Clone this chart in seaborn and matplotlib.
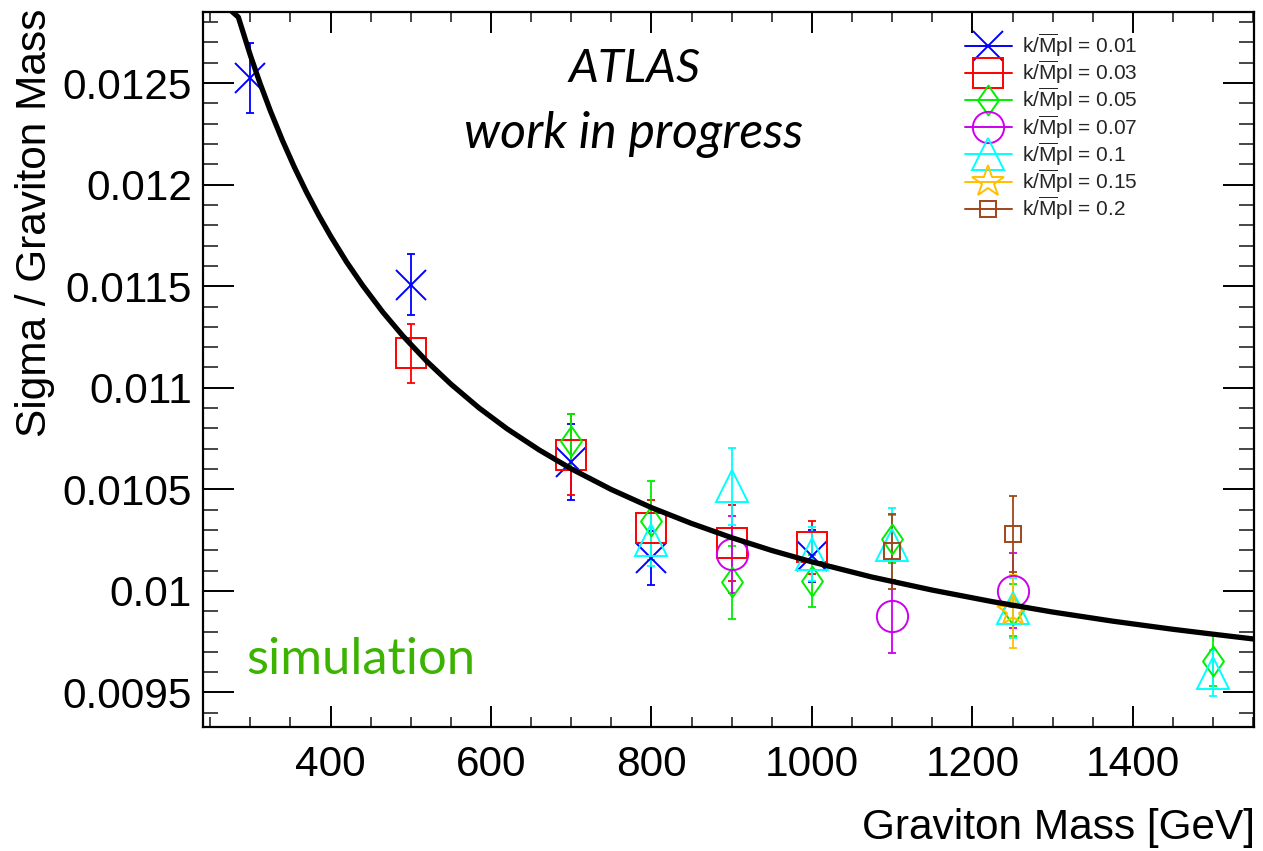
import numpy as np
import pandas as pd
import matplotlib
matplotlib.use("Agg")
import matplotlib.pyplot as plt
from matplotlib.lines import Line2D
from matplotlib.path import Path
from matplotlib.ticker import FixedLocator, MultipleLocator
import seaborn as sns

# ---------------- data ----------------
k_labels = ["0.01", "0.03", "0.05", "0.07", "0.1", "0.15", "0.2"]

m_k001 = [300, 500, 700, 800, 1000]
v_k001 = [0.012525, 0.011508, 0.010636, 0.010160, 0.010170]
e_k001 = [0.000173, 0.000152, 0.000188, 0.000133, 0.000128]

m_k003 = [500, 700, 800, 900, 1000]
v_k003 = [0.011169, 0.010671, 0.010308, 0.010236, 0.010215]
e_k003 = [0.000147, 0.000200, 0.000138, 0.000187, 0.000131]

m_k005 = [700, 800, 900, 1000, 1100, 1250, 1500]
v_k005 = [0.010738, 0.010345, 0.010042, 0.010050, 0.010255, 0.009906, 0.009657]
e_k005 = [0.000135, 0.000195, 0.000180, 0.000128, 0.000120, 0.000128, 0.000125]

m_k007 = [900, 1100, 1250]
v_k007 = [0.010181, 0.009876, 0.010000]
e_k007 = [0.000190, 0.000180, 0.000185]

m_k010 = [800, 900, 1000, 1100, 1250, 1500]
v_k010 = [0.010252, 0.010515, 0.010181, 0.010227, 0.009916, 0.009595]
e_k010 = [0.000130, 0.000190, 0.000133, 0.000180, 0.000150, 0.000113]

m_k015 = [1250]
v_k015 = [0.009900]
e_k015 = [0.000180]

m_k020 = [1100, 1250]
v_k020 = [0.010195, 0.010278]
e_k020 = [0.000185, 0.000187]

# fitted curve
curve_m = [272, 285, 300, 312, 325, 340, 355, 370, 385, 400, 420, 440, 465, 490,
           520, 550, 585, 620, 660, 700, 750, 800, 850, 900, 950, 1000, 1075,
           1150, 1225, 1300, 1375, 1450, 1500, 1551]
curve_v = [0.01287, 0.012825, 0.012637, 0.012500, 0.012363, 0.012218, 0.012085,
           0.011963, 0.011851, 0.011747, 0.011619, 0.011504, 0.011373, 0.011256,
           0.011130, 0.011018, 0.010901, 0.010798, 0.010694, 0.010601, 0.010499,
           0.010410, 0.010332, 0.010262, 0.010199, 0.010143, 0.010068, 0.010004,
           0.009947, 0.009896, 0.009851, 0.009811, 0.009787, 0.009763]

x_ticks = [400, 600, 800, 1000, 1200, 1400]
y_ticks = [0.0095, 0.0100, 0.0105, 0.0110, 0.0115, 0.0120, 0.0125]
y_tick_labels = ["0.0095", "0.01", "0.0105", "0.011", "0.0115", "0.012", "0.0125"]

# ---------------- style ----------------
sns.set_theme(style="white")
plt.rcParams["font.family"] = ["Liberation Sans", "DejaVu Sans"]
plt.rcParams["mathtext.fontset"] = "custom"
plt.rcParams["mathtext.rm"] = "Liberation Sans"
plt.rcParams["mathtext.it"] = "Liberation Sans:italic"

diamond = Path([(0, 1), (0.7, 0), (0, -1), (-0.7, 0), (0, 1)],
               [Path.MOVETO, Path.LINETO, Path.LINETO, Path.LINETO, Path.CLOSEPOLY])

series = [
    (m_k001, v_k001, e_k001, "#0000ff", "x", 21.5),
    (m_k003, v_k003, e_k003, "#ff0000", "s", 22.0),
    (m_k005, v_k005, e_k005, "#00ee00", diamond, 21.5),
    (m_k007, v_k007, e_k007, "#cc00ee", "o", 22.5),
    (m_k010, v_k010, e_k010, "#00ffff", "^", 22.5),
    (m_k015, v_k015, e_k015, "#ffc000", "*", 24.0),
    (m_k020, v_k020, e_k020, "#a0461a", "s", 11.0),
]

fig = plt.figure(figsize=(12.63, 8.51), dpi=100)
ax = fig.add_axes([203 / 1263, 1 - 727 / 851, (1254 - 203) / 1263, (727 - 12) / 851])
ax.set_facecolor("white")

handles = []
for (m, v, e, c, mk, ms), lab in zip(series, k_labels):
    ax.errorbar(m, v, yerr=e, fmt="none", ecolor=c, elinewidth=1.3,
                capsize=2.6, capthick=1.3, zorder=3)
    ax.plot(m, v, linestyle="none", marker=mk, ms=ms, mfc="none", mec=c,
            mew=1.4, zorder=4)
    handles.append(Line2D([0], [0], color=c, lw=1.4, marker=mk, ms=ms,
                          mfc="none", mec=c, mew=1.4,
                          label=r"k/$\overline{\mathrm{M}}$pl = " + lab))

curve_df = pd.DataFrame({"m": curve_m, "v": curve_v})
sns.lineplot(data=curve_df, x="m", y="v", color="black", lw=3.8,
             estimator=None, sort=False, ax=ax, zorder=10)

ax.set_xlim(241, 1551)
ax.set_ylim(0.00933, 0.01285)
ax.set_xlabel("")
ax.set_ylabel("")

ax.xaxis.set_major_locator(FixedLocator(x_ticks))
ax.xaxis.set_minor_locator(MultipleLocator(50))
ax.yaxis.set_major_locator(FixedLocator(y_ticks))
ax.yaxis.set_minor_locator(MultipleLocator(0.0001))
ax.set_yticklabels(y_tick_labels)

ax.tick_params(axis="x", which="major", direction="in", length=15, width=1.4,
               top=True, bottom=True, labelsize=30.5, pad=13, colors="black")
ax.tick_params(axis="x", which="minor", direction="in", length=7.5, width=1.2,
               top=True, bottom=True)
ax.tick_params(axis="y", which="major", direction="in", length=22, width=1.4,
               left=True, right=True, labelsize=30.5, pad=8, colors="black")
ax.tick_params(axis="y", which="minor", direction="in", length=11, width=1.2,
               left=True, right=True)
for sp in ax.spines.values():
    sp.set_visible(True)
    sp.set_color("black")
    sp.set_linewidth(1.6)

# axis titles (ROOT style: aligned to the far ends)
fig.text(1255 / 1263, 1 - 828 / 851, "Graviton Mass [GeV]", ha="right",
         va="center", fontsize=30.5, color="black")
fig.text(35 / 1263, 1 - 9 / 851, "Sigma / Graviton Mass", ha="center",
         va="top", rotation=90, fontsize=30.5, color="black")

# annotations
fig.text(635 / 1263, 1 - 69 / 851, "ATLAS", ha="center", va="center",
         fontsize=34, style="italic", family=["Lato", "DejaVu Sans"], color="black")
fig.text(634 / 1263, 1 - 134 / 851, "work in progress", ha="center", va="center",
         fontsize=36, style="italic", family=["Lato", "DejaVu Sans"], color="black")
fig.text(361 / 1263, 1 - 660 / 851, "simulation", ha="center", va="center",
         fontsize=36.5, family=["Lato", "DejaVu Sans"], color="#3cb300")

leg = fig.legend(handles=handles, loc="upper left",
                 bbox_to_anchor=(965 / 1263, 1 - 32 / 851),
                 frameon=False, fontsize=15, handlelength=2.25,
                 handletextpad=0.48, labelspacing=0.0, borderpad=0,
                 borderaxespad=0)

fig.savefig("out.png", dpi=100)
